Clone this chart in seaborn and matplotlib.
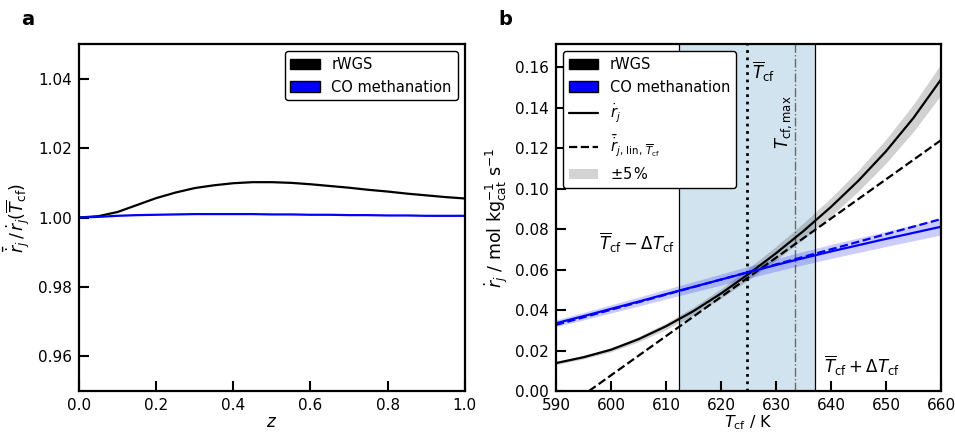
"""
Velocidad de reacción media vs. lineal (rWGS / metanación de CO)
"""
import numpy as np
import matplotlib
matplotlib.use('Agg')
import matplotlib.pyplot as plt
from matplotlib.patches import Patch
from matplotlib.lines import Line2D
from matplotlib.ticker import MultipleLocator
import seaborn as sns

# --- datos panel a ---
z = [0.0, 0.05, 0.1, 0.15, 0.2, 0.25, 0.3, 0.35, 0.4, 0.45, 0.5,
     0.55, 0.6, 0.65, 0.7, 0.75, 0.8, 0.85, 0.9, 0.95, 1.0]
ratio_rwgs = [1.0000, 1.0004, 1.0016, 1.0036, 1.0056, 1.0072, 1.0085, 1.0093,
              1.0099, 1.0102, 1.0102, 1.0100, 1.0096, 1.0091, 1.0086, 1.0080,
              1.0075, 1.0069, 1.0064, 1.0059, 1.0055]
ratio_meth = [1.0000, 1.0002, 1.0005, 1.0007, 1.0008, 1.0009, 1.0010, 1.0010,
              1.0010, 1.0010, 1.0009, 1.0009, 1.0008, 1.0008, 1.0007, 1.0007,
              1.0006, 1.0006, 1.0005, 1.0005, 1.0005]

# --- datos panel b ---
T = [590, 595, 600, 605, 610, 615, 620, 625, 630, 635, 640, 645, 650, 655, 660]
r_rwgs = [0.0138, 0.0167, 0.0204, 0.0256, 0.0320, 0.0395, 0.0482, 0.0578,
          0.0681, 0.0791, 0.0910, 0.1040, 0.1185, 0.1350, 0.1540]
r_meth = [0.0335, 0.0370, 0.0406, 0.0442, 0.0479, 0.0515, 0.0551, 0.0587,
          0.0623, 0.0657, 0.0690, 0.0721, 0.0752, 0.0782, 0.0812]
T_lin_rwgs = [596, 660]
r_lin_rwgs = [0.0, 0.124]
T_lin_meth = [590, 660]
r_lin_meth = [0.0327, 0.0850]
band = 0.05  # +-5 %

T_low, T_mean, T_max, T_high = 612.4, 624.8, 633.4, 637.1

sns.set_theme(style='ticks')
plt.rcParams['font.family'] = ['DejaVu Sans']
plt.rcParams['mathtext.fontset'] = 'dejavusans'
plt.rcParams['xtick.direction'] = 'in'
plt.rcParams['ytick.direction'] = 'in'
plt.rcParams['text.color'] = 'black'
plt.rcParams['axes.labelcolor'] = 'black'

fig = plt.figure(figsize=(9.55, 4.32), dpi=100)
ax1 = fig.add_axes([0.0827, 0.0949, 0.404, 0.803])
ax2 = fig.add_axes([0.5822, 0.0949, 0.4031, 0.803])


def style_axis(ax):
    for s in ax.spines.values():
        s.set_linewidth(1.6)
        s.set_color('black')
    ax.tick_params(direction='in', length=7, width=1.5, labelsize=11,
                   top=False, right=False, colors='black', pad=5)


# Panel a
sns.lineplot(x=z, y=ratio_rwgs, ax=ax1, color='black', linewidth=1.6)
sns.lineplot(x=z, y=ratio_meth, ax=ax1, color='blue', linewidth=1.6)
ax1.set_xlim(0, 1)
ax1.set_ylim(0.95, 1.05)
ax1.xaxis.set_major_locator(MultipleLocator(0.2))
ax1.set_yticks([0.96, 0.98, 1.00, 1.02, 1.04])
ax1.set_xlabel('$z$', fontsize=12, labelpad=0)
ax1.set_ylabel(r'$\bar{\dot{r}}_j\,/\,\dot{r}_j(\overline{T}_\mathrm{cf})$', fontsize=12.5)
style_axis(ax1)
ax1.legend(handles=[Patch(facecolor='black', edgecolor='black', label='rWGS'),
                    Patch(facecolor='blue', edgecolor='black', label='CO methanation')],
           loc='upper right', fontsize=10.5, frameon=True, edgecolor='black',
           fancybox=True, framealpha=1)

# Panel b
ax2.axvspan(T_low, T_high, color='tab:blue', alpha=0.2, lw=0, zorder=0)
ax2.axvline(T_low, color='black', lw=0.9, zorder=1)
ax2.axvline(T_high, color='black', lw=0.9, zorder=1)
ax2.axvline(T_mean, color='black', lw=2, ls=':', zorder=1)
ax2.axvline(T_max, color='dimgray', lw=1, ls='-.', zorder=1)

rw = np.array(r_rwgs)
rm = np.array(r_meth)
ax2.fill_between(T, rw * (1 - band), rw * (1 + band), color='black', alpha=0.18, lw=0)
ax2.fill_between(T, rm * (1 - band), rm * (1 + band), color='blue', alpha=0.2, lw=0)
sns.lineplot(x=T, y=r_rwgs, ax=ax2, color='black', linewidth=1.6)
sns.lineplot(x=T_lin_rwgs, y=r_lin_rwgs, ax=ax2, color='black', linewidth=1.6,
             linestyle='--')
sns.lineplot(x=T, y=r_meth, ax=ax2, color='blue', linewidth=1.6)
sns.lineplot(x=T_lin_meth, y=r_lin_meth, ax=ax2, color='blue', linewidth=1.6,
             linestyle='--')
ax2.set_xlim(590, 660)
ax2.set_ylim(0, 0.1715)
ax2.set_yticks(np.arange(0, 0.17, 0.02))
ax2.xaxis.set_major_locator(MultipleLocator(10))
ax2.set_xlabel(r'$T_\mathrm{cf}$ / K', fontsize=11.5, labelpad=0)
ax2.set_ylabel(r'$\dot{r}_j$ / mol kg$_\mathrm{cat}^{-1}$ s$^{-1}$', fontsize=12.5)
style_axis(ax2)

ax2.text(T_mean + 0.9, 0.1635, r'$\overline{T}_\mathrm{cf}$', fontsize=12,
         ha='left', va='top')
ax2.text(T_max - 0.2, 0.1195, r'$T_\mathrm{cf,max}$', fontsize=12, rotation=90,
         ha='right', va='bottom')
ax2.text(T_low - 0.8, 0.0734, r'$\overline{T}_\mathrm{cf} - \Delta T_\mathrm{cf}$',
         fontsize=12, ha='right', va='center')
ax2.text(T_high + 1.6, 0.0122, r'$\overline{T}_\mathrm{cf} + \Delta T_\mathrm{cf}$',
         fontsize=12, ha='left', va='center')

handles = [Patch(facecolor='black', edgecolor='black', label='rWGS'),
           Patch(facecolor='blue', edgecolor='black', label='CO methanation'),
           Line2D([], [], color='black', lw=1.6, label=r'$\dot{r}_j$'),
           Line2D([], [], color='black', lw=1.6, ls='--',
                  label=r'$\bar{\dot{r}}_{j,\,\mathrm{lin},\,\overline{T}_\mathrm{cf}}$'),
           Patch(facecolor='lightgray', edgecolor='none', label=r'$\pm 5\,\%$')]
ax2.legend(handles=handles, loc='upper left', fontsize=10.5, frameon=True,
           edgecolor='black', fancybox=True, framealpha=1)

fig.text(0.022, 0.955, 'a', fontsize=14, fontweight='bold', va='center')
fig.text(0.522, 0.955, 'b', fontsize=14, fontweight='bold', va='center')

fig.savefig('out.png', dpi=100)
